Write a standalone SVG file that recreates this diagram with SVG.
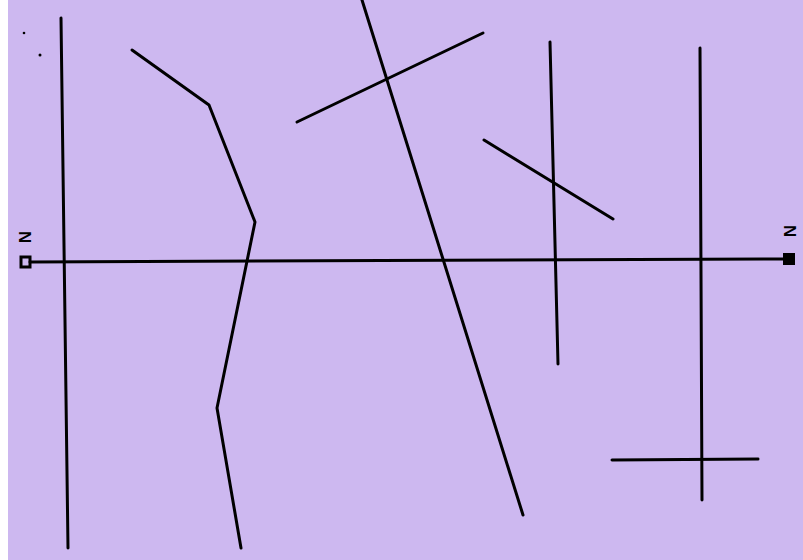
<svg xmlns="http://www.w3.org/2000/svg" width="803" height="560" viewBox="0 0 803 560">
<style>
.ln{fill:none;stroke:#000;stroke-width:3;stroke-linecap:round;stroke-linejoin:round}
.lbl{font-family:"Liberation Sans",Arial,sans-serif;font-size:17px;font-weight:bold;fill:#000}
</style>
<rect width="803" height="560" fill="#cdb8f0"/>
<rect width="8" height="560" fill="#ffffff"/>
<g id="connectors">
<path class="ln" d="M61,18 L68,548"/>
<path class="ln" d="M30,262 L783,259"/>
<path class="ln" d="M132,50 L209,105 L255,222 L217,408 L241,548"/>
<path class="ln" d="M362,0 L523,515"/>
<path class="ln" d="M297,122 L483,33"/>
<path class="ln" d="M484,140 L613,219"/>
<path class="ln" d="M550,42 L558,364"/>
<path class="ln" d="M700,48 L702,500"/>
<path class="ln" d="M612,460 L758,459"/>
</g>
<g id="left-end">
<rect x="21" y="257" width="9" height="10" fill="none" stroke="#000" stroke-width="3"/>
<text class="lbl" transform="translate(31,237) rotate(-90)" text-anchor="middle">N</text>
</g>
<g id="right-end">
<rect x="783" y="253" width="12" height="12" fill="#000"/>
<text class="lbl" transform="translate(796,231) rotate(-90)" text-anchor="middle">N</text>
</g>
<circle cx="24" cy="33" r="1.3" fill="#000"/>
<circle cx="40" cy="55" r="1.5" fill="#000"/>
</svg>
